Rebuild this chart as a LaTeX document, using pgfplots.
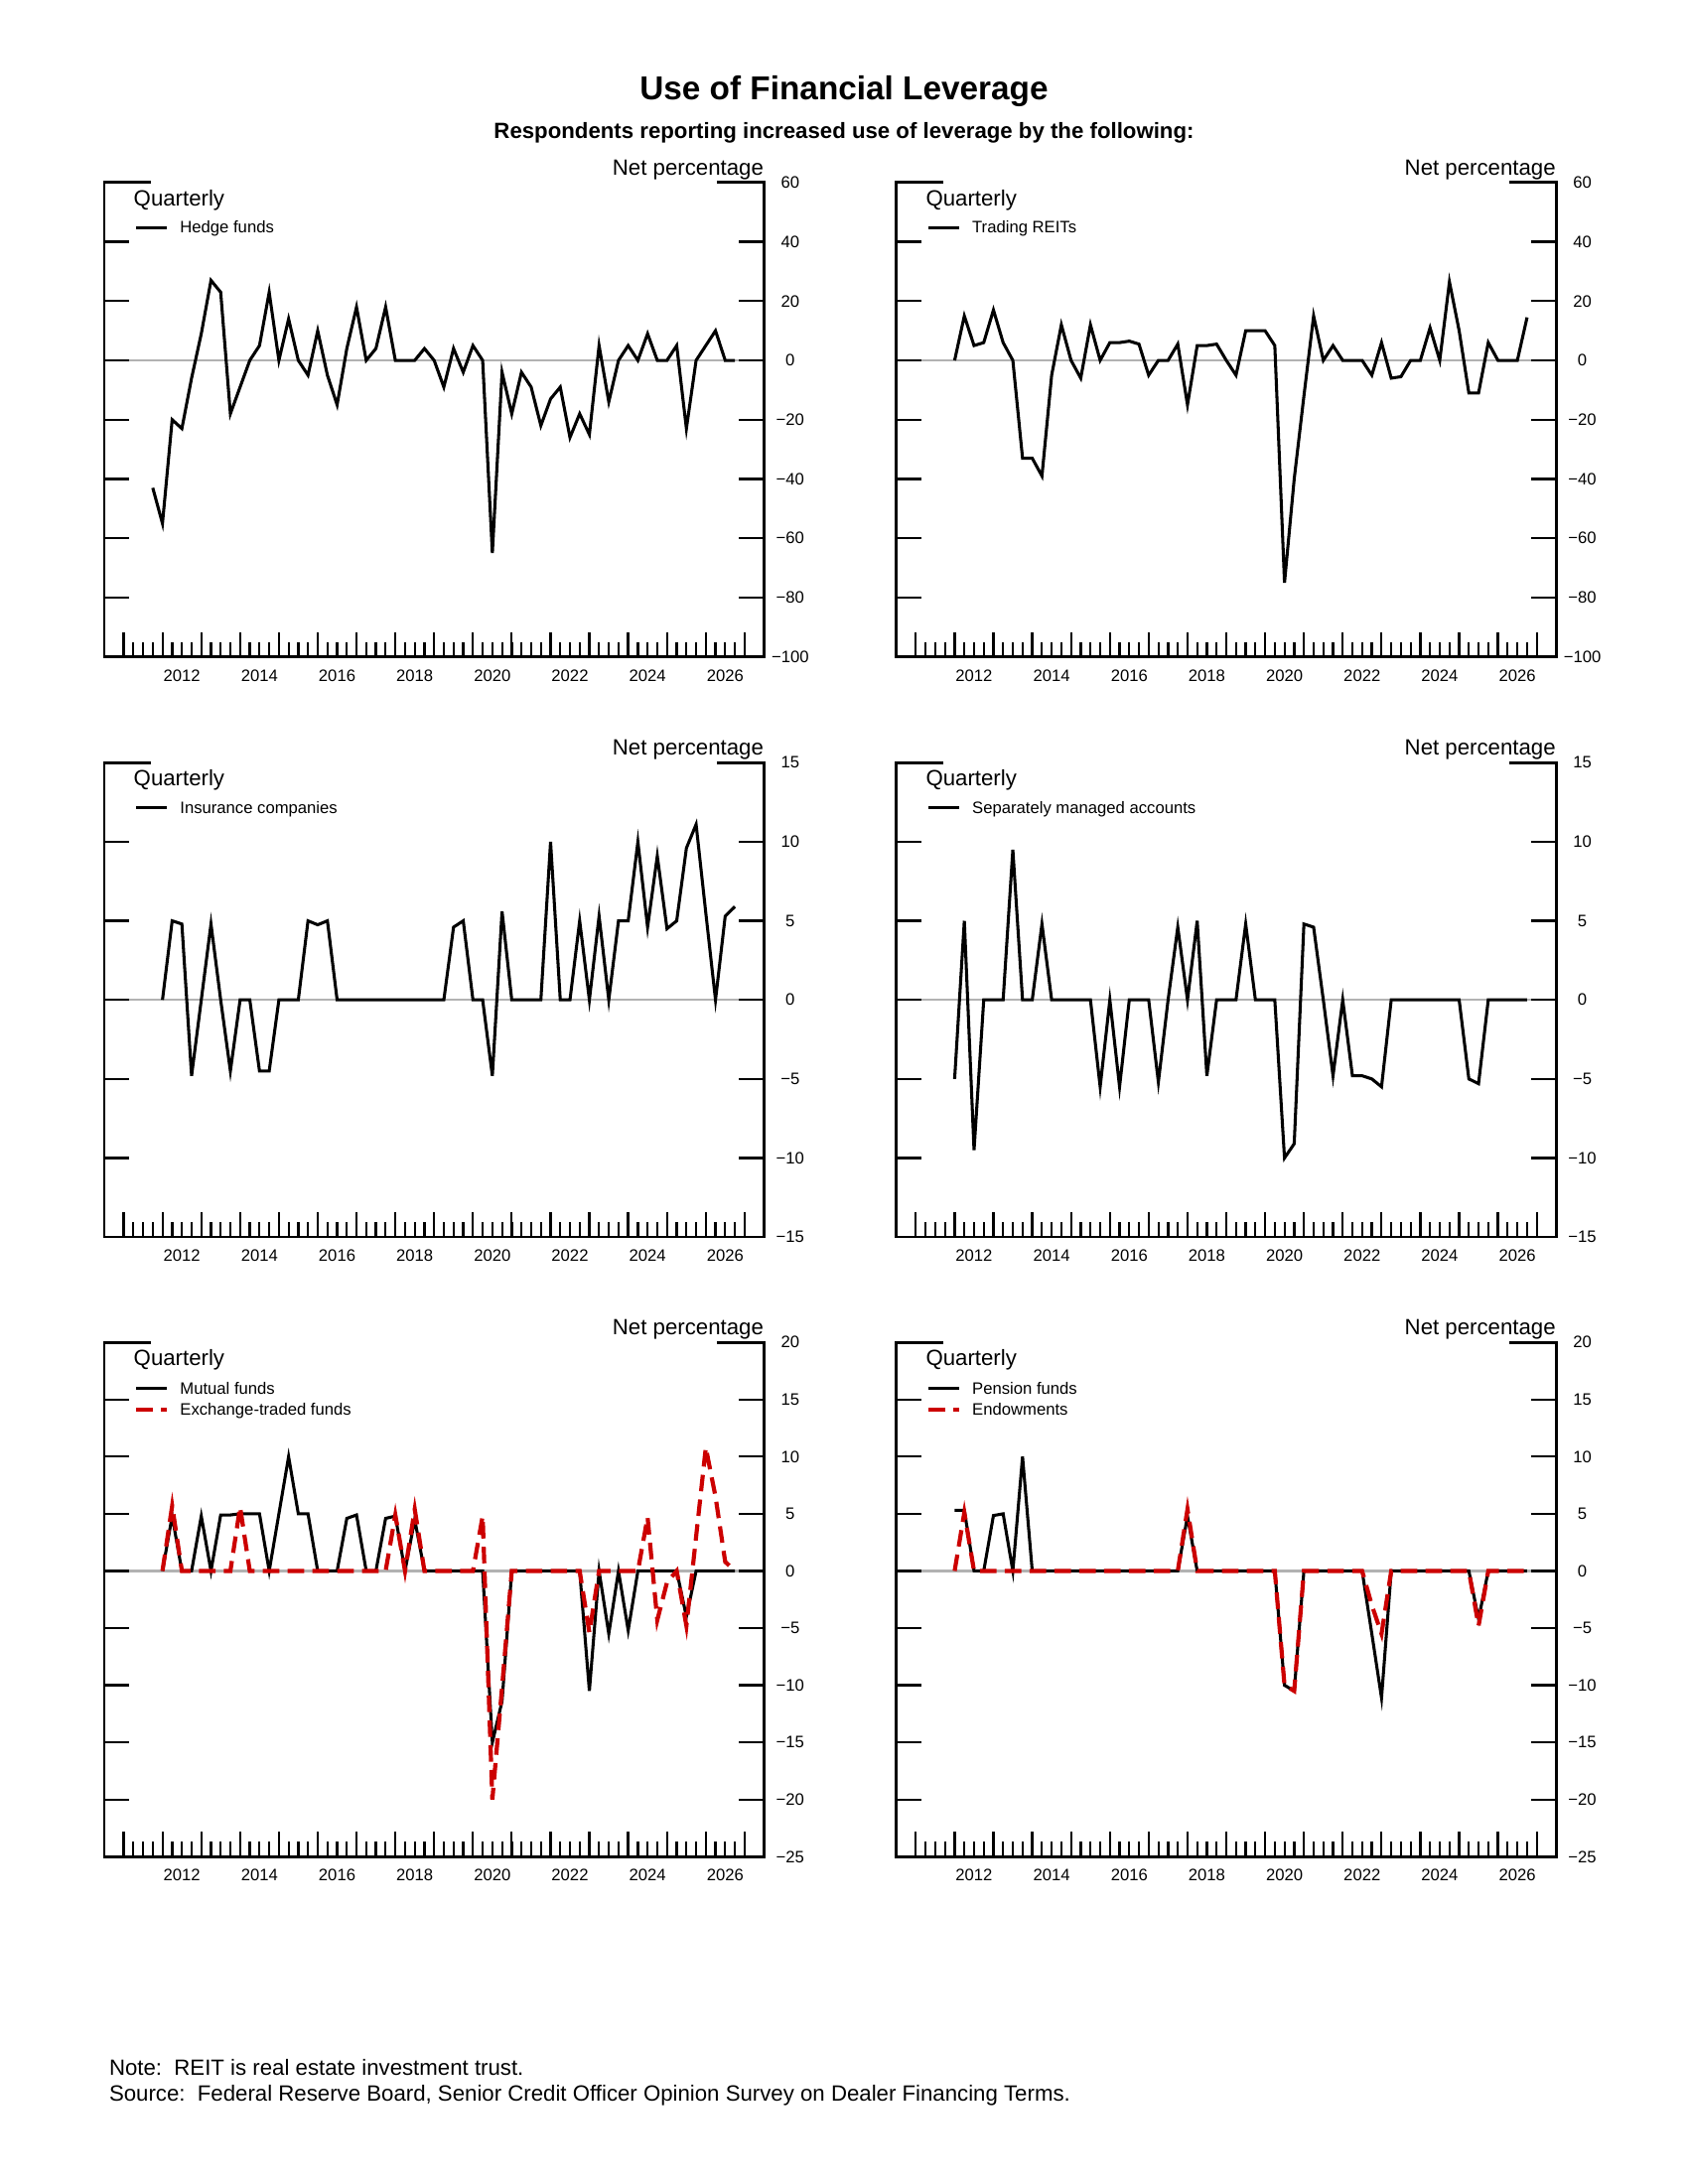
\documentclass[border=0pt]{standalone}
\usepackage{fontspec}
\setmainfont{Liberation Sans}
\usepackage{pgfplots}
\pgfplotsset{compat=1.18}
\usepackage{pgfplotstable}

\definecolor{frbred}{RGB}{204,0,0}
\definecolor{zerogray}{RGB}{178,178,178}
\newcommand{\tickfont}{\fontsize{6}{7}\selectfont}
\newcommand{\labfont}{\fontsize{8}{9.6}\selectfont}

% hedge funds start one quarter earlier than the rest
\pgfplotstableread{
t hedge
2011.75 -43
2012.00 -55
2012.25 -20
2012.50 -23
2012.75 -6
2013.00 9
2013.25 27
2013.50 23
2013.75 -18
2014.00 -9
2014.25 0
2014.50 5
2014.75 23
2015.00 0
2015.25 14
2015.50 0
2015.75 -5
2016.00 10
2016.25 -5
2016.50 -15
2016.75 4
2017.00 18
2017.25 0
2017.50 4
2017.75 18
2018.00 0
2018.25 0
2018.50 0
2018.75 4
2019.00 0
2019.25 -9
2019.50 4
2019.75 -4
2020.00 5
2020.25 0
2020.50 -65
2020.75 -4
2021.00 -18
2021.25 -4
2021.50 -9
2021.75 -22
2022.00 -13
2022.25 -9
2022.50 -26
2022.75 -18
2023.00 -25
2023.25 5
2023.50 -14
2023.75 0
2024.00 5
2024.25 0
2024.50 9
2024.75 0
2025.00 0
2025.25 5
2025.50 -23
2025.75 0
2026.00 5
2026.25 10
2026.50 0
2026.75 0
}\hedgetab

\pgfplotstableread{
t reits ins sma mut etf pen endw
2012.00 0 0 -5 0 0 5.3 0
2012.25 15 5 5 4.8 5.7 5.3 5.1
2012.50 5 4.8 -9.5 0 0 0 0
2012.75 6 -4.8 0 0 0 0 0
2013.00 17 0 0 4.8 0 4.85 0
2013.25 6 4.8 0 0 0 5 0
2013.50 0 0 9.5 4.9 0 0 0
2013.75 -33 -4.5 0 4.9 0 10 0
2014.00 -33 0 0 5 5.6 0 0
2014.25 -39 0 4.8 5 0 0 0
2014.50 -5 -4.5 0 5 0 0 0
2014.75 12 -4.5 0 0 0 0 0
2015.00 0 0 0 5 0 0 0
2015.25 -6 0 0 10 0 0 0
2015.50 12 0 0 5 0 0 0
2015.75 0 5 -5.5 5 0 0 0
2016.00 6 4.75 0 0 0 0 0
2016.25 6 5 -5.5 0 0 0 0
2016.50 6.5 0 0 0 0 0 0
2016.75 5.5 0 0 4.6 0 0 0
2017.00 -5 0 0 4.9 0 0 0
2017.25 0 0 -5.2 0 0 0 0
2017.50 0 0 0 0 0 0 0
2017.75 5.5 0 4.6 4.6 0 0 0
2018.00 -15 0 0 4.8 4.9 4.8 5.4
2018.25 5 0 5 0 0 0 0
2018.50 5 0 -4.8 4.5 5.4 0 0
2018.75 5.5 0 0 0 0 0 0
2019.00 0 0 0 0 0 0 0
2019.25 -5 0 0 0 0 0 0
2019.50 10 4.6 4.8 0 0 0 0
2019.75 10 5 0 0 0 0 0
2020.00 10 0 0 0 0 0 0
2020.25 5 0 0 0 4.8 0 0
2020.50 -75 -4.8 -10 -15 -20 -10 -10
2020.75 -40 5.6 -9.1 -11.4 -10.2 -10.5 -10.5
2021.00 -12 0 4.8 0 0 0 0
2021.25 15 0 4.6 0 0 0 0
2021.50 0 0 0 0 0 0 0
2021.75 5 0 -4.8 0 0 0 0
2022.00 0 10 0 0 0 0 0
2022.25 0 0 -4.8 0 0 0 0
2022.50 0 0 -4.8 0 0 0 0
2022.75 -5 5 -5 0 0 -5.5 -3
2023.00 6 0 -5.5 -10.5 -5.4 -11.1 -5.5
2023.25 -6 5.3 0 0 0 0 0
2023.50 -5.5 0 0 -5.5 0 0 0
2023.75 0 5 0 0 0 0 0
2024.00 0 5 0 -5.2 0 0 0
2024.25 11 10 0 0 0 0 0
2024.50 0 4.6 0 0 4.7 0 0
2024.75 26.5 9.1 0 0 -4.3 0 0
2025.00 10 4.5 0 0 -1 0 0
2025.25 -11 5 -5 0 0 0 0
2025.50 -11 9.6 -5.3 -4 -4.8 -4.2 -4.8
2025.75 6 11.1 0 0 3 0 0
2026.00 0 5.5 0 0 10.8 0 0
2026.25 0 0 0 0 6.5 0 0
2026.50 0 5.3 0 0 0.8 0 0
2026.75 14.5 5.9 0 0 0 0 0
}\maintab

\tikzset{
  blk/.style={black, line width=1.1pt},
  reddash/.style={frbred, line width=1.5pt, dash pattern=on 6pt off 3pt},
}

% year labels sit mid-year, so they are shifted half a year right of the tall tick
\pgfplotsset{
  panel/.style={
    scale only axis, width=239.2pt, anchor=south west,
    xmin=2010.5, xmax=2027.5,
    xtick={2011,...,2027},
    xticklabels={,2012,,2014,,2016,,2018,,2020,,2022,,2024,,2026,},
    minor xtick={2011.25,2011.5,...,2026.75},
    xtick pos=left, ytick pos=both, yticklabel pos=right,
    tick align=inside, major tick length=9pt, minor tick length=5.4pt,
    tick style={line width=0.8pt, black},
    minor tick style={line width=0.8pt, black},
    axis line style={draw=none}, axis on top, clip=false,
    xticklabel style={font=\tickfont, anchor=center, xshift=7.04pt, yshift=-6.8pt},
    yticklabel style={font=\tickfont, anchor=center, xshift=9.5pt},
    no markers,
  },
}

% frame with short stubs at the top corners, plus the panel texts
\newcommand{\frameandlabels}{%
  \draw[line width=1pt] ([xshift=17pt]rel axis cs:0,1) -- (rel axis cs:0,1) -- (rel axis cs:0,0)
    -- (rel axis cs:1,0) -- (rel axis cs:1,1) -- ([xshift=-17pt]rel axis cs:1,1);
  \node[anchor=base east, font=\labfont, inner sep=0pt] at ([yshift=2.8pt]rel axis cs:1,1) {Net percentage};
  \node[anchor=base west, font=\labfont, inner sep=0pt] at ([shift={(10.5pt,-8.4pt)}]rel axis cs:0,1) {Quarterly};
}
% #1 row offset, #2 text baseline offset, #3 line style, #4 text
\newcommand{\legentry}[4]{%
  \draw[#3] ([shift={(11.6pt,#1)}]rel axis cs:0,1) -- ++(11.1pt,0pt);
  \node[anchor=base west, font=\tickfont, inner sep=0pt] at ([shift={(27.3pt,#2)}]rel axis cs:0,1) {#4};
}
\newcommand{\zeroline}{\addplot[zerogray, line width=0.9pt, forget plot] coordinates {(2010.5,0) (2027.5,0)};}

\begin{document}
\begin{tikzpicture}
\useasboundingbox (0,0) rectangle (612pt,792pt);

\node[anchor=base, font=\fontsize{12}{14}\selectfont\bfseries, inner sep=0pt] at (306pt,755.9pt) {Use of Financial Leverage};
\node[anchor=base, font=\fontsize{8}{9.6}\selectfont\bfseries, inner sep=0pt] at (306pt,741.6pt) {Respondents reporting increased use of leverage by the following:};

% top row
\begin{axis}[panel, at={(37.8pt,553.8pt)}, height=172pt, ymin=-100, ymax=60,
  ytick={-100,-80,...,60}, yticklabels={−100,−80,−60,−40,−20,0,20,40,60}]
  \zeroline
  \addplot[blk] table[x=t, y=hedge] {\hedgetab};
  \frameandlabels
  \legentry{-16.3pt}{-18.4pt}{blk}{Hedge funds}
\end{axis}
\begin{axis}[panel, at={(325pt,553.8pt)}, height=172pt, ymin=-100, ymax=60,
  ytick={-100,-80,...,60}, yticklabels={−100,−80,−60,−40,−20,0,20,40,60}]
  \zeroline
  \addplot[blk] table[x=t, y=reits] {\maintab};
  \frameandlabels
  \legentry{-16.3pt}{-18.4pt}{blk}{Trading REITs}
\end{axis}

% middle row
\begin{axis}[panel, at={(37.8pt,343.4pt)}, height=172pt, ymin=-15, ymax=15,
  ytick={-15,-10,...,15}, yticklabels={−15,−10,−5,0,5,10,15}]
  \zeroline
  \addplot[blk] table[x=t, y=ins] {\maintab};
  \frameandlabels
  \legentry{-16.3pt}{-18.4pt}{blk}{Insurance companies}
\end{axis}
\begin{axis}[panel, at={(325pt,343.4pt)}, height=172pt, ymin=-15, ymax=15,
  ytick={-15,-10,...,15}, yticklabels={−15,−10,−5,0,5,10,15}]
  \zeroline
  \addplot[blk] table[x=t, y=sma] {\maintab};
  \frameandlabels
  \legentry{-16.3pt}{-18.4pt}{blk}{Separately managed accounts}
\end{axis}

% bottom row
\begin{axis}[panel, at={(37.8pt,118.7pt)}, height=186.5pt, ymin=-25, ymax=20,
  ytick={-25,-20,...,20}, yticklabels={−25,−20,−15,−10,−5,0,5,10,15,20}]
  \zeroline
  \addplot[blk] table[x=t, y=mut] {\maintab};
  \addplot[reddash] table[x=t, y=etf] {\maintab};
  \frameandlabels
  \legentry{-16.6pt}{-18.7pt}{blk}{Mutual funds}
  \legentry{-24.4pt}{-26.5pt}{reddash}{Exchange-traded funds}
\end{axis}
\begin{axis}[panel, at={(325pt,118.7pt)}, height=186.5pt, ymin=-25, ymax=20,
  ytick={-25,-20,...,20}, yticklabels={−25,−20,−15,−10,−5,0,5,10,15,20}]
  \zeroline
  \addplot[blk] table[x=t, y=pen] {\maintab};
  \addplot[reddash] table[x=t, y=endw] {\maintab};
  \frameandlabels
  \legentry{-16.6pt}{-18.7pt}{blk}{Pension funds}
  \legentry{-24.4pt}{-26.5pt}{reddash}{Endowments}
\end{axis}

\node[anchor=base west, font=\labfont, inner sep=0pt] at (39.4pt,39.5pt) {Note:\ \ REIT is real estate investment trust.};
\node[anchor=base west, font=\labfont, inner sep=0pt] at (39.4pt,30pt) {Source:\ \ Federal Reserve Board, Senior Credit Officer Opinion Survey on Dealer Financing Terms.};
\end{tikzpicture}
\end{document}
